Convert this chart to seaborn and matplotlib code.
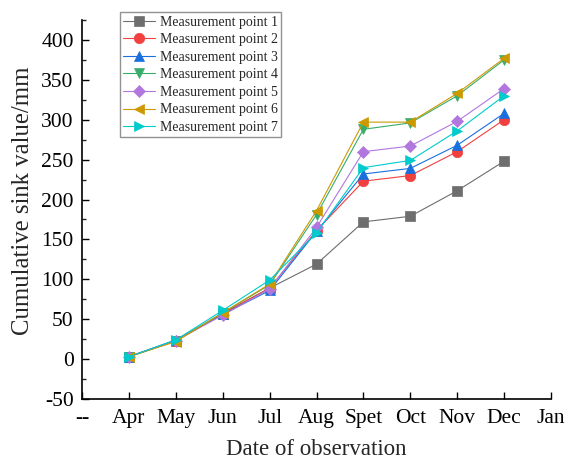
import numpy as np
import matplotlib
matplotlib.use("Agg")
import matplotlib.pyplot as plt
from matplotlib.ticker import MultipleLocator
import seaborn as sns
import pandas as pd

# Data
months = ["Apr", "May", "Jun", "Jul", "Aug", "Spet", "Oct", "Nov", "Dec"]
tick_labels = ["--", "Apr", "May", "Jun", "Jul", "Aug", "Spet", "Oct", "Nov", "Dec", "Jan"]

p1 = [3, 23, 57, 89, 119, 172, 179, 211, 248]
p2 = [3, 23, 57, 89, 161, 223, 230, 260, 300]
p3 = [3, 24, 56, 86, 160, 232, 239, 268, 308]
p4 = [3, 23, 58, 93, 181, 288, 296, 330, 375]
p5 = [3, 23, 55, 88, 165, 260, 267, 298, 339]
p6 = [3, 22, 58, 94, 186, 297, 297, 333, 377]
p7 = [3, 24, 61, 99, 158, 240, 249, 286, 330]

series = [p1, p2, p3, p4, p5, p6, p7]
names = ["Measurement point %d" % (i + 1) for i in range(7)]

rows = []
for name, vals in zip(names, series):
    for i, v in enumerate(vals):
        rows.append({"x": i + 1, "value": v, "series": name})
df = pd.DataFrame(rows)

colors = ["#6E6E6E", "#F14040", "#1A6FDF", "#37AD6B", "#B177DE", "#CC9900", "#00CBCC"]
markers = ["s", "o", "^", "v", "D", "<", ">"]
sizes = [6.5, 7.5, 7.5, 7.5, 6.5, 7.5, 7.5]

sns.set_style("ticks")
plt.rcParams["font.family"] = ["Liberation Serif", "DejaVu Serif"]
plt.rcParams["axes.unicode_minus"] = False

fig = plt.figure(figsize=(5.68, 4.66), dpi=100)
ax = fig.add_axes([0.1444, 0.1438, 0.8257, 0.8133])

for name, c, m, ms in zip(names, colors, markers, sizes):
    sns.lineplot(data=df[df["series"] == name], x="x", y="value", ax=ax,
                 color=c, marker=m, markersize=ms, markeredgecolor=c,
                 markeredgewidth=0.5, linewidth=0.8, label=name)

ax.set_xlim(0, 10)
ax.set_ylim(-50, 425)
ax.set_xticks(range(11))
ax.set_xticklabels(tick_labels)
ax.yaxis.set_major_locator(MultipleLocator(50))
ax.yaxis.set_minor_locator(MultipleLocator(25))
ax.tick_params(axis="both", which="major", direction="in", length=5, width=1,
               labelsize=15.5, colors="black")
ax.tick_params(axis="y", which="minor", direction="in", length=3, width=1)
ax.tick_params(axis="x", pad=7)
ax.tick_params(axis="y", pad=6)
for s in ["top", "right"]:
    ax.spines[s].set_visible(False)
for s in ["left", "bottom"]:
    ax.spines[s].set_linewidth(1.2)
    ax.spines[s].set_color("black")

ax.set_xlabel("Date of observation", fontsize=16.5, labelpad=8)
ax.set_ylabel("Cumulative sink value/mm", fontsize=17.8)
ax.yaxis.set_label_coords(-0.102, 0.522)

leg = ax.legend(loc="upper left", bbox_to_anchor=(0.081, 1.021), borderaxespad=0,
                fontsize=10, labelspacing=0.33, handlelength=2.3,
                handletextpad=0.3, borderpad=0.25, fancybox=False, frameon=True)
leg.get_frame().set_edgecolor("#777777")
leg.get_frame().set_linewidth(1)

fig.savefig("out.png", dpi=100)
